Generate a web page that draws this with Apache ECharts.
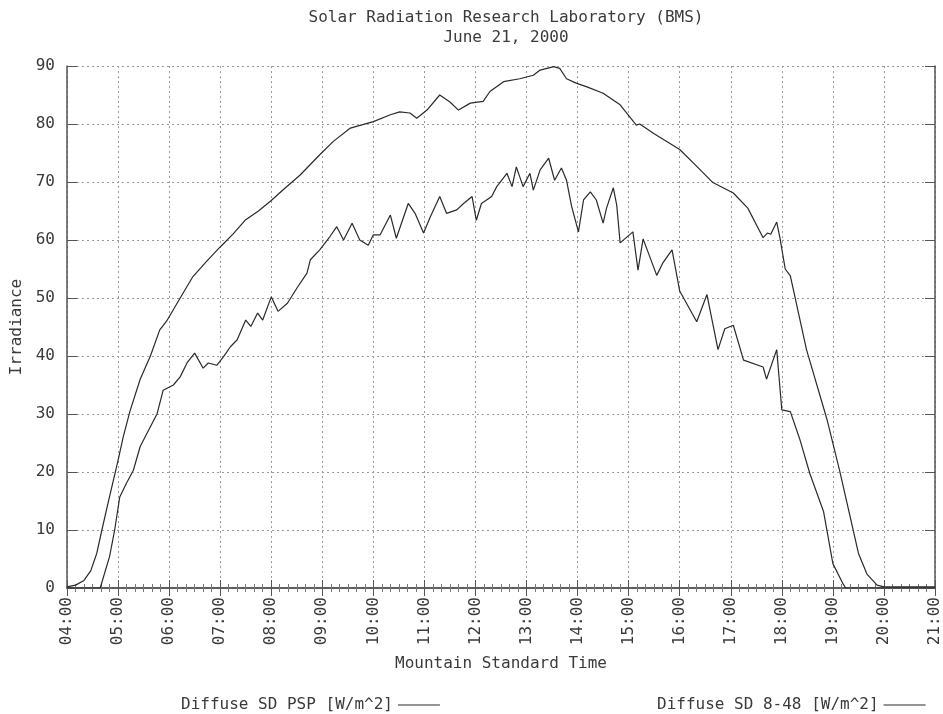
<!DOCTYPE html>
<html>
<head>
<meta charset="utf-8">
<title>Solar Radiation Research Laboratory (BMS)</title>
<script src="https://cdn.jsdelivr.net/npm/echarts@6/dist/echarts.min.js"></script>
<style>
  html, body { margin: 0; padding: 0; background: #fff; }
  #chart { width: 943px; height: 714px; }
</style>
</head>
<body>
<div id="chart"></div>
<script>
// time of day (MST) and irradiance
const pspTimes = ['04:00', '04:10', '04:20', '04:28', '04:35', '04:41', '04:48', '04:56', '05:00', '05:06',
  '05:14', '05:26', '05:38', '05:49', '05:57', '06:13', '06:28', '06:44', '07:00', '07:15',
  '07:30', '07:45', '08:00', '08:15', '08:34', '08:57', '09:13', '09:33', '10:00', '10:20',
  '10:31', '10:43', '10:51', '11:03', '11:18', '11:30', '11:40', '11:54', '12:09', '12:17',
  '12:33', '12:52', '13:08', '13:16', '13:32', '13:39', '13:47', '13:59', '14:11', '14:30',
  '14:50', '15:09', '15:13', '15:30', '16:00', '16:18', '16:39', '17:03', '17:20', '17:38',
  '17:43', '17:47', '17:54', '17:58', '18:04', '18:10', '18:29', '18:53', '19:08', '19:24',
  '19:30', '19:40', '19:52', '20:00', '21:00']
const pspValues = [0.2, 0.5, 1.3, 3, 6, 10, 14.5, 19.5, 22, 26,
  30.5, 36, 40, 44.5, 46, 50, 53.7, 56.3, 58.8, 61,
  63.5, 65, 66.8, 68.8, 71.2, 74.7, 77, 79.3, 80.4, 81.6,
  82.1, 81.9, 81, 82.4, 85, 83.8, 82.4, 83.6, 83.9, 85.6,
  87.3, 87.8, 88.4, 89.3, 89.9, 89.6, 87.8, 87, 86.4, 85.3,
  83.3, 79.8, 80, 78.3, 75.6, 73, 69.9, 68.1, 65.5, 60.4,
  61.2, 61, 63.1, 60.2, 55, 53.8, 41.1, 29.1, 20.2, 9.9,
  6, 2.4, 0.5, 0.2, 0.2]

const s848Times = ['04:00', '04:39', '04:50', '04:56', '05:02', '05:10', '05:18', '05:26', '05:38', '05:46',
  '05:53', '06:05', '06:13', '06:21', '06:30', '06:40', '06:46', '06:56', '07:04', '07:12',
  '07:20', '07:30', '07:36', '07:44', '07:50', '08:00', '08:08', '08:19', '08:31', '08:42',
  '08:46', '08:57', '09:09', '09:17', '09:25', '09:35', '09:44', '09:54', '10:00', '10:08',
  '10:20', '10:27', '10:41', '10:49', '10:59', '11:07', '11:18', '11:26', '11:38', '11:46',
  '11:56', '12:01', '12:07', '12:19', '12:25', '12:37', '12:43', '12:48', '12:56', '13:04',
  '13:08', '13:16', '13:26', '13:33', '13:41', '13:47', '13:53', '14:01', '14:07', '14:15',
  '14:22', '14:30', '14:34', '14:42', '14:46', '14:50', '15:05', '15:11', '15:17', '15:33',
  '15:40', '15:51', '16:00', '16:20', '16:32', '16:45', '16:53', '17:03', '17:15', '17:38',
  '17:42', '17:54', '18:00', '18:10', '18:21', '18:33', '18:49', '19:00', '19:12', '19:15',
  '21:00']
const s848Values = [0, 0, 5.4, 10, 15.7, 18.1, 20.3, 24.4, 27.8, 30.1,
  34.1, 35, 36.4, 38.8, 40.5, 37.9, 38.8, 38.4, 39.9, 41.6,
  42.8, 46.2, 45.1, 47.4, 46.2, 50.2, 47.7, 49.1, 51.9, 54.3,
  56.6, 58.3, 60.6, 62.3, 60, 62.9, 60, 59.1, 60.9, 60.9,
  64.3, 60.3, 66.3, 64.6, 61.2, 64, 67.5, 64.6, 65.2, 66.3,
  67.5, 63.4, 66.3, 67.5, 69.2, 71.5, 69.2, 72.6, 69.2, 71.5,
  68.6, 72.1, 74.1, 70.3, 72.4, 70.3, 65.8, 61.4, 66.9, 68.3,
  66.9, 62.9, 65.5, 69, 66, 59.5, 61.4, 54.8, 60.2, 53.9,
  56, 58.3, 51.2, 45.9, 50.6, 41.1, 44.7, 45.3, 39.3, 38.1,
  36, 41.1, 30.7, 30.4, 25.7, 19.7, 13.2, 4.2, 0.7, 0,
  0]

const seriesNames = ['Diffuse SD PSP [W/m^2]', 'Diffuse SD 8-48 [W/m^2]']

function toHours(t) {
  const p = t.split(':')
  return +p[0] + (+p[1]) / 60
}
function pairs(times, values) {
  return times.map((t, i) => [toHours(t), values[i]])
}
function hhmm(v) {
  const h = Math.round(v)
  return (h < 10 ? '0' : '') + h + ':00'
}

const font = 'DejaVu Sans Mono'
const fs = 16
const ink = '#3a3a3a'
const gridLine = { show: true, lineStyle: { color: '#9a9a9a', type: [2, 3], width: 1 } }
const legendBase = {
  align: 'right', icon: 'rect',
  itemWidth: 42, itemHeight: 1, itemGap: 0,
  textStyle: { fontFamily: font, fontSize: fs, color: ink }
}

const chart = echarts.init(document.getElementById('chart'))
chart.setOption({
  backgroundColor: '#fff',
  animation: false,
  title: {
    text: 'Solar Radiation Research Laboratory (BMS)\nJune 21, 2000',
    left: 501,
    top: 3,
    textAlign: 'center',
    textStyle: { fontFamily: font, fontSize: fs, fontWeight: 'normal', color: ink, lineHeight: 20 }
  },
  legend: [
    Object.assign({ data: [seriesNames[0]], left: 176, top: 692 }, legendBase),
    Object.assign({ data: [seriesNames[1]], left: 652, top: 692 }, legendBase)
  ],
  grid: { left: 67, right: 8, top: 66, bottom: 126, containLabel: false },
  xAxis: [
    {
      type: 'value', min: 4, max: 21, interval: 1,
      name: 'Mountain Standard Time', nameLocation: 'middle', nameGap: 68,
      nameTextStyle: { fontFamily: font, fontSize: fs, color: ink },
      axisLine: { show: true, lineStyle: { color: '#555', width: 1.5 } },
      axisTick: { show: true, inside: true, length: 8, lineStyle: { color: '#555' } },
      minorTick: { show: true, splitNumber: 6, length: 4, lineStyle: { color: '#777' } },
      axisLabel: { rotate: 90, margin: 9, fontFamily: font, fontSize: fs, color: ink, formatter: hhmm },
      splitLine: gridLine
    },
    {
      type: 'value', min: 4, max: 21, interval: 1, position: 'top',
      axisLine: { show: true, lineStyle: { color: '#555', width: 1.5 } },
      axisTick: { show: true, inside: true, length: 8, lineStyle: { color: '#555' } },
      minorTick: { show: true, splitNumber: 6, length: 4, lineStyle: { color: '#777' } },
      axisLabel: { show: false },
      splitLine: { show: false }
    }
  ],
  yAxis: [
    {
      type: 'value', min: 0, max: 90, interval: 10,
      name: 'Irradiance', nameLocation: 'middle', nameGap: 40,
      nameTextStyle: { fontFamily: font, fontSize: fs, color: ink },
      axisLine: { show: true, lineStyle: { color: '#555', width: 1.5 } },
      axisTick: { show: true, inside: true, length: 10, lineStyle: { color: '#555' } },
      axisLabel: { margin: 12, fontFamily: font, fontSize: fs, color: ink },
      splitLine: gridLine
    },
    {
      type: 'value', min: 0, max: 90, interval: 10, position: 'right',
      axisLine: { show: true, lineStyle: { color: '#555', width: 1.5 } },
      axisTick: { show: true, inside: true, length: 10, lineStyle: { color: '#555' } },
      axisLabel: { show: false },
      splitLine: { show: false }
    }
  ],
  series: [
    {
      name: seriesNames[0], type: 'line', symbol: 'none', showSymbol: false,
      lineStyle: { color: '#2a2a2a', width: 1.2 }, itemStyle: { color: '#2a2a2a' },
      data: pairs(pspTimes, pspValues)
    },
    {
      name: seriesNames[1], type: 'line', symbol: 'none', showSymbol: false,
      lineStyle: { color: '#2a2a2a', width: 1.2 }, itemStyle: { color: '#2a2a2a' },
      data: pairs(s848Times, s848Values)
    }
  ]
})
</script>
</body>
</html>
